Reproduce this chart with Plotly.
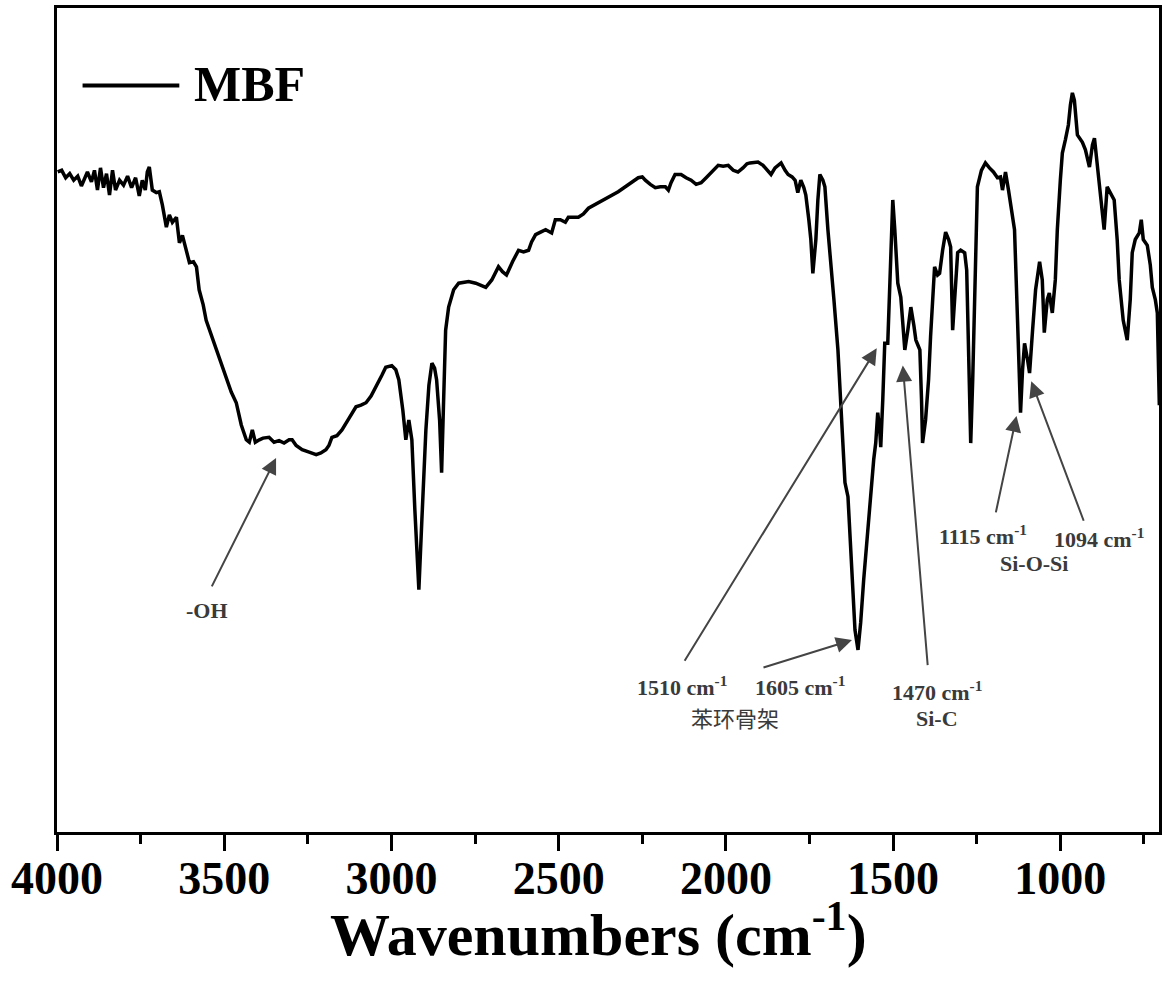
import plotly.graph_objects as go

# ---- data ----
wavenumber = [3998, 3986, 3974, 3962, 3950, 3938, 3927, 3918, 3909, 3897, 3888, 3879, 3870, 3861, 3852, 3843, 3834, 3825,
              3813, 3801, 3789, 3777, 3765, 3754, 3745, 3736, 3730, 3724, 3715, 3703, 3694, 3685, 3673, 3664, 3655, 3643,
              3634, 3625, 3613, 3604, 3592, 3583, 3575, 3563, 3554, 3536, 3515, 3494, 3479, 3464, 3449, 3434, 3425, 3416,
              3407, 3395, 3384, 3366, 3351, 3336, 3321, 3306, 3297, 3285, 3267, 3246, 3225, 3211, 3196, 3187, 3178, 3163,
              3148, 3127, 3106, 3091, 3076, 3061, 3046, 3029, 3017, 2999, 2987, 2978, 2966, 2957, 2948, 2939, 2930, 2918,
              2909, 2897, 2888, 2879, 2871, 2865, 2856, 2850, 2844, 2838, 2829, 2814, 2799, 2769, 2748, 2718, 2700, 2680,
              2668, 2656, 2638, 2620, 2605, 2590, 2581, 2569, 2554, 2539, 2521, 2510, 2495, 2480, 2471, 2441, 2426, 2411,
              2322, 2262, 2250, 2241, 2226, 2211, 2196, 2181, 2172, 2164, 2152, 2134, 2119, 2104, 2089, 2074, 2059, 2041,
              2023, 2008, 1993, 1978, 1964, 1949, 1937, 1928, 1916, 1904, 1889, 1874, 1865, 1853, 1844, 1835, 1823, 1814,
              1802, 1793, 1785, 1776, 1767, 1761, 1752, 1746, 1740, 1731, 1725, 1719, 1710, 1704, 1695, 1686, 1677, 1665,
              1653, 1644, 1635, 1626, 1614, 1605, 1597, 1588, 1576, 1567, 1558, 1552, 1546, 1540, 1537, 1531, 1525, 1516,
              1507, 1501, 1495, 1486, 1477, 1471, 1465, 1456, 1447, 1438, 1432, 1426, 1420, 1415, 1412, 1403, 1394, 1388,
              1382, 1376, 1367, 1361, 1352, 1343, 1334, 1328, 1322, 1313, 1307, 1298, 1286, 1280, 1274, 1268, 1262, 1256,
              1248, 1236, 1224, 1212, 1200, 1188, 1179, 1173, 1164, 1155, 1146, 1137, 1128, 1119, 1113, 1107, 1098, 1092,
              1083, 1074, 1062, 1054, 1048, 1039, 1033, 1024, 1015, 1009, 1000, 994, 985, 976, 970, 964, 958, 949,
              934, 925, 913, 904, 898, 889, 881, 875, 869, 860, 851, 839, 830, 824, 812, 800, 791, 785,
              776, 764, 758, 752, 740, 731, 725, 716, 710, 704]

transmittance = [80.1, 80.3, 79.4, 79.9, 79.1, 79.6, 78.4, 79.4, 80.1, 78.9, 80.3, 77.9, 80.6, 78.2, 79.9, 77.3, 80.3, 77.9,
                 79.1, 78.5, 79.6, 78.2, 79.4, 77.2, 79.1, 77.9, 80.1, 80.7, 77.9, 77.6, 77.7, 76.1, 73.4, 74.9, 74.0, 74.6,
                 71.5, 72.4, 70.6, 69.1, 69.2, 68.6, 65.8, 64.0, 62.1, 60.0, 57.6, 54.9, 53.4, 52.1, 49.4, 47.6, 47.3, 48.8,
                 47.3, 47.6, 47.8, 47.9, 47.3, 47.5, 47.2, 47.6, 47.6, 46.9, 46.4, 46.1, 45.8, 46.0, 46.4, 46.9, 47.9, 48.1,
                 48.8, 50.2, 51.6, 51.8, 52.1, 52.9, 54.0, 55.4, 56.4, 56.6, 56.1, 54.9, 51.2, 47.6, 50.0, 47.6, 39.1, 29.4,
                 37.9, 48.8, 54.2, 56.9, 56.3, 54.9, 50.0, 43.6, 52.4, 60.9, 63.7, 65.8, 66.6, 66.8, 66.6, 66.1, 67.0, 68.6,
                 68.0, 67.6, 69.2, 70.6, 70.4, 70.6, 71.6, 72.5, 72.8, 73.1, 72.7, 74.3, 74.3, 74.0, 74.6, 74.6, 75.0, 75.7,
                 77.7, 79.4, 79.5, 79.1, 78.6, 78.2, 78.3, 78.3, 77.9, 78.8, 79.8, 79.8, 79.4, 79.1, 78.6, 78.8, 79.4, 80.1,
                 80.9, 80.8, 80.9, 80.3, 80.1, 80.6, 81.1, 81.2, 81.3, 81.3, 80.9, 80.3, 79.8, 80.6, 80.9, 81.2, 80.3, 79.8,
                 79.5, 79.1, 77.6, 79.1, 78.2, 77.3, 74.3, 71.9, 67.8, 71.9, 76.7, 79.8, 79.1, 78.3, 73.1, 69.1, 64.6, 58.5,
                 50.0, 42.4, 40.7, 33.0, 24.5, 22.1, 25.4, 30.6, 36.7, 40.7, 45.2, 47.2, 50.9, 48.8, 46.7, 52.4, 59.3, 59.3,
                 69.4, 76.7, 73.1, 66.6, 64.9, 62.1, 58.5, 60.9, 63.7, 61.5, 59.7, 59.1, 58.5, 52.4, 47.2, 50.0, 54.9, 60.1,
                 64.6, 68.6, 67.6, 67.8, 70.6, 72.8, 71.9, 71.0, 60.9, 65.8, 70.3, 70.6, 70.3, 68.2, 58.5, 47.2, 54.9, 67.0,
                 78.3, 80.3, 81.2, 80.6, 80.1, 79.4, 79.5, 77.9, 80.1, 77.9, 75.5, 73.1, 62.1, 50.9, 56.1, 59.3, 57.3, 55.7,
                 60.9, 65.8, 69.2, 67.0, 60.6, 64.6, 65.4, 63.0, 67.0, 73.1, 79.1, 82.4, 84.0, 85.8, 88.2, 89.7, 88.8, 84.6,
                 83.7, 82.8, 80.7, 83.4, 84.2, 80.9, 77.1, 74.9, 73.1, 78.3, 77.6, 76.7, 71.9, 67.0, 62.1, 59.7, 64.6, 70.3,
                 71.9, 72.7, 74.3, 71.9, 71.2, 68.8, 66.1, 64.6, 63.0, 51.8]

series_name = "MBF"
x_title = "Wavenumbers (cm<sup>-1</sup>)"
x_range = [4000, 705]
y_range = [0, 100]

# arrows: head (wavenumber, transmittance), tail offset in px
arrow_heads_x = [3345, 1549, 1623, 1471, 1131, 1087]
arrow_heads_y = [45.4, 58.7, 23.3, 56.6, 50.5, 54.7]
arrow_ax = [-65, -193, -90, 25, -21, 53]
arrow_ay = [130, 314, 28, 301, 98, 141]

label_texts = ["-OH", "1510 cm<sup>-1</sup>", "1605 cm<sup>-1</sup>", "1470 cm<sup>-1</sup>", "Si-C",
               "1115 cm<sup>-1</sup>", "1094 cm<sup>-1</sup>", "Si-O-Si"]
label_x = [3551, 2131, 1779, 1370, 1370, 1230, 884, 1078]
label_y = [26.9, 17.7, 17.7, 17.1, 13.8, 36.0, 35.7, 32.6]
cjk_label = "苯环骨架"
cjk_x, cjk_y = 1973, 13.95

SERIF = "Liberation Serif"

fig = go.Figure()
fig.add_trace(go.Scatter(x=wavenumber, y=transmittance, mode="lines", name=series_name,
                         line=dict(color="black", width=3.5), showlegend=False))

for hx, hy, ax, ay in zip(arrow_heads_x, arrow_heads_y, arrow_ax, arrow_ay):
    fig.add_annotation(x=hx, y=hy, xref="x", yref="y", ax=ax, ay=ay, text="",
                       showarrow=True, arrowhead=2, arrowsize=1.6, arrowwidth=2,
                       arrowcolor="#444444", standoff=0, startstandoff=0)

for t, lx, ly in zip(label_texts, label_x, label_y):
    fig.add_annotation(x=lx, y=ly, xref="x", yref="y", text=t, showarrow=False,
                       font=dict(family=SERIF, size=22, color="#3a3a3a", weight="bold"))
fig.add_annotation(x=cjk_x, y=cjk_y, xref="x", yref="y", text=cjk_label, showarrow=False,
                   font=dict(family="Noto Sans CJK SC", size=22, color="#3a3a3a"))

# legend drawn manually (long sample line)
fig.add_shape(type="line", xref="paper", yref="paper", x0=0.0232, x1=0.111, y0=0.906, y1=0.906,
              line=dict(color="black", width=4))
fig.add_annotation(x=0.1227, y=0.908, xref="paper", yref="paper", text=series_name, showarrow=False,
                   xanchor="left", yanchor="middle",
                   font=dict(family=SERIF, size=50, color="black", weight="bold"))

# x-axis title as annotation for exact placement
fig.add_annotation(x=0.491, y=-0.1195, xref="paper", yref="paper", text=x_title, showarrow=False,
                   xanchor="center", yanchor="middle",
                   font=dict(family=SERIF, size=60, color="black", weight="bold"))

fig.update_layout(
    width=1165, height=985,
    margin=dict(l=57, r=3, t=8, b=153),
    paper_bgcolor="white", plot_bgcolor="white",
    xaxis=dict(range=x_range, showgrid=False, zeroline=False, showline=True, mirror=True,
               linecolor="black", linewidth=3, ticks="outside", ticklen=16, tickwidth=3, tickcolor="black",
               tickmode="linear", tick0=0, dtick=500, ticklabelstandoff=-12,
               minor=dict(ticks="outside", ticklen=9, tickwidth=3, tickcolor="black", dtick=250, tick0=0),
               tickfont=dict(family=SERIF, size=46, color="black", weight="bold")),
    yaxis=dict(range=y_range, showgrid=False, zeroline=False, showline=True, mirror=True,
               linecolor="black", linewidth=3, ticks="", showticklabels=False),
)

fig.write_html("out.html", config={"displayModeBar": False},
               post_script="document.body.style.margin='0';document.body.style.overflow='hidden';")
